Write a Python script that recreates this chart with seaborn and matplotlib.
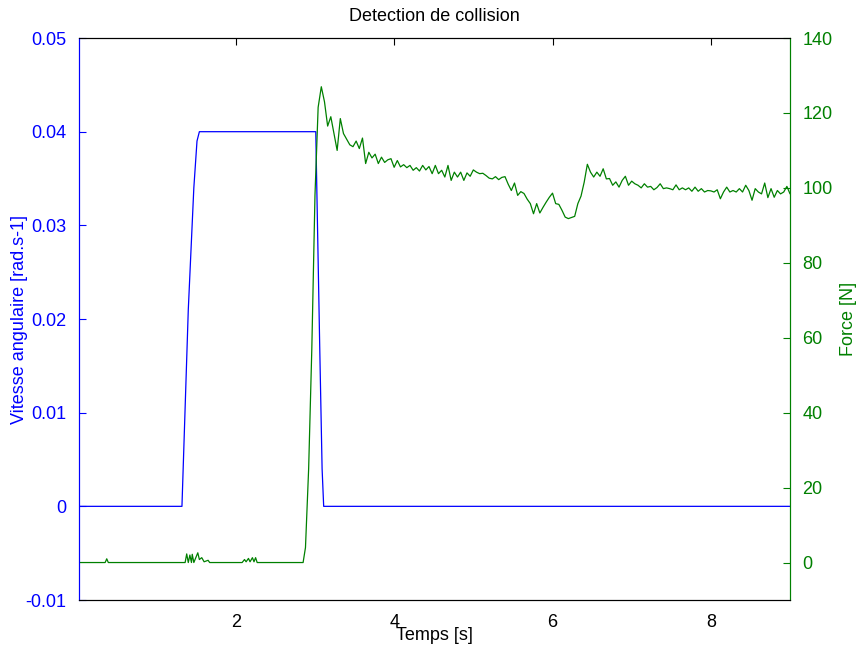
"""
Detection de collision : vitesse angulaire et force en fonction du temps
"""

import numpy as np
import pandas as pd
import seaborn as sns
import matplotlib
matplotlib.use("Agg")
import matplotlib.pyplot as plt

# Vitesse angulaire (rad/s)
vel_t = [0.02, 1.32, 1.40, 1.47, 1.51, 1.54, 3.01, 3.06, 3.09, 3.11, 9.0]
vel = [0.0, 0.0, 0.021, 0.034, 0.039, 0.04, 0.04, 0.017, 0.004, 0.0, 0.0]

# Force (N) avant l'impact
force_t_early = [0.02, 0.35, 0.37, 0.39, 1.36, 1.38, 1.40, 1.42, 1.44, 1.45, 1.47,
                 1.52, 1.54, 1.57, 1.60, 1.65, 1.67, 2.08, 2.11, 2.13, 2.16, 2.18,
                 2.21, 2.23, 2.25, 2.27, 2.85, 2.88, 2.92, 2.96, 3.00]
force_early = [0, 0, 1.0, 0, 0, 2.3, 0, 2.0, 0, 2.2, 0,
               2.6, 0.8, 1.3, 0.2, 0.6, 0, 0, 0.8, 0.2, 1.1, 0.2,
               1.3, 0.2, 1.3, 0, 0, 4, 25, 57, 98]

# Force (N) apres l'impact, un point toutes les 0.04 s de 3.04 a 9.00 s
force_late = [
    121.5, 127, 123, 116.5, 119, 114.5, 110, 118.5, 114.5, 113,
    111.5, 111, 112.5, 110.5, 113.3, 106.5, 109.5, 108, 109, 106.5,
    108.2, 106.8, 107.5, 107.8, 105.5, 107.3, 105.6, 106.2, 105.4, 106,
    104.7, 105.4, 104.5, 106, 104.8, 105.7, 103.8, 106, 103.8, 104.7,
    102.9, 106, 102, 104.2, 102.9, 104.2, 102, 104, 103.1, 104.8,
    104.2, 103.8, 103.9, 103.3, 102.6, 102.4, 103, 102.2, 102.8, 103,
    101, 99.3, 101.3, 98, 99, 98.5, 97, 95.8, 93.1, 95.8,
    93.3, 94.8, 96.2, 97.5, 98.6, 95.8, 95.6, 94, 92.2, 91.8,
    92.1, 92.4, 95.8, 97.8, 101.5, 106.3, 104.2, 102.9, 104.2, 103.1,
    105.1, 102.4, 102.5, 100.7, 101.6, 100.2, 102, 103.1, 100.7, 101.8,
    101.1, 100.7, 100, 101.1, 100.2, 100.4, 99.5, 100.1, 101.1, 99.8,
    100, 99.8, 99.5, 100.8, 99.5, 100, 99.5, 100, 99.1, 100.2,
    99.1, 99.8, 98.9, 99.3, 99.2, 98.9, 99.5, 97.1, 98.9, 100.2,
    98.9, 99.3, 98.9, 99.8, 98.9, 100.7, 99.3, 96.7, 99.8, 98.9,
    98.4, 101.3, 97.4, 99.8, 97.5, 99.3, 98.4, 98.9, 100.4, 98.4,
]
force_t_late = [round(3.04 + 0.04 * i, 2) for i in range(len(force_late))]

vel_ticks = [-0.01, 0, 0.01, 0.02, 0.03, 0.04, 0.05]
vel_labels = ["-0.01", "0", "0.01", "0.02", "0.03", "0.04", "0.05"]
force_ticks = [0, 20, 40, 60, 80, 100, 120, 140]
time_ticks = [2, 4, 6, 8]

vel_df = pd.DataFrame({"t": vel_t, "v": vel})
force_df = pd.DataFrame({"t": force_t_early + force_t_late,
                         "f": force_early + force_late})

sns.set_theme(style="white")
plt.rcParams["font.family"] = ["Liberation Sans", "DejaVu Sans"]
plt.rcParams["text.color"] = "black"

blue = "#0000ff"
green = "#008000"

fig = plt.figure(figsize=(8.58, 6.49), dpi=100)
ax = fig.add_axes([0.0921, 0.0755, 0.8287, 0.8659])
ax2 = ax.twinx()

sns.lineplot(data=vel_df, x="t", y="v", ax=ax, color=blue, lw=0.9,
             estimator=None, sort=False)
sns.lineplot(data=force_df, x="t", y="f", ax=ax2, color=green, lw=0.9,
             estimator=None, sort=False)

ax.set_xlim(0.02, 9.0)
ax.set_ylim(-0.01, 0.05)
ax2.set_ylim(-10, 140)

ax.set_xticks(time_ticks)
ax.set_yticks(vel_ticks)
ax.set_yticklabels(vel_labels)
ax2.set_yticks(force_ticks)

ax.tick_params(axis="x", direction="in", length=5, width=0.8, top=True,
               labelsize=13, colors="black", pad=10)
ax.tick_params(axis="y", direction="in", length=5, width=0.8,
               labelsize=13, colors=blue, pad=9)
ax2.tick_params(axis="y", direction="in", length=5, width=0.8,
                labelsize=13, colors=green, pad=9)

for a in (ax, ax2):
    a.spines["top"].set_color("black")
    a.spines["bottom"].set_color("black")
    a.spines["left"].set_color(blue)
    a.spines["right"].set_color(green)
    for s in a.spines.values():
        s.set_linewidth(0.8)

ax.set_xlabel("Temps [s]", fontsize=13, color="black", labelpad=-3)
ax.set_ylabel("Vitesse angulaire [rad.s-1]", fontsize=13, color=blue, labelpad=-2)
ax2.set_ylabel("Force [N]", fontsize=13, color=green, labelpad=5)
ax.set_title("Detection de collision", fontsize=13, pad=12, color="black")

fig.savefig("out.png", dpi=100)
